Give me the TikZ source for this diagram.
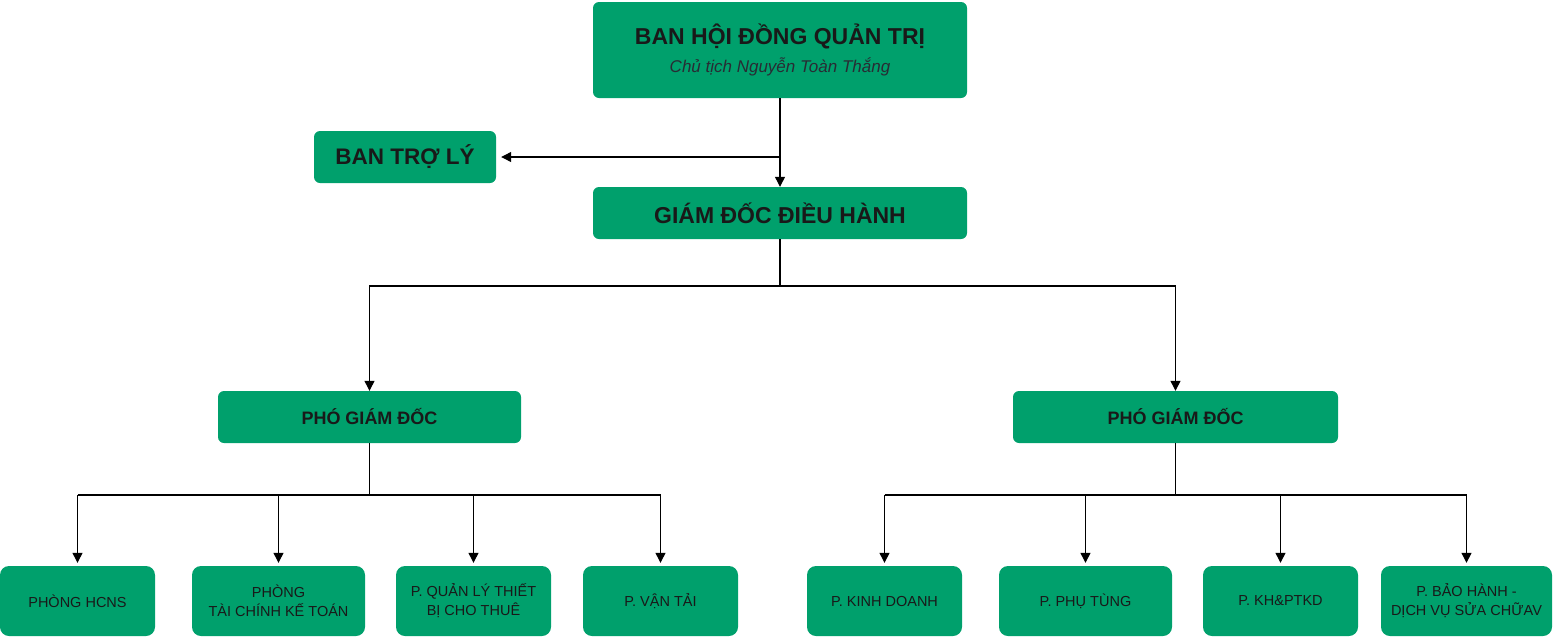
\documentclass[tikz,border=0pt]{standalone}
\usepackage{fontspec}
\setmainfont{Liberation Sans}
\usepackage{tikz}
\usetikzlibrary{arrows.meta}

\definecolor{boxgreen}{RGB}{0,160,108}
\definecolor{subgray}{RGB}{40,44,52}

\tikzset{
	box/.style={fill=boxgreen, rounded corners=6pt, inner sep=0pt, align=center, text=black!90},
	bigbox/.style={box, minimum width=374pt, minimum height=52pt},
	midbox/.style={box, minimum height=52pt},
	unitbox/.style={box, rounded corners=9pt, minimum width=155pt, minimum height=70pt, font=\fontsize{14.5}{19}\selectfont},
	arr/.style={-{Triangle[length=10pt,width=10pt]}, line width=1.2pt},
	wire/.style={line width=1.2pt}
}

\begin{document}
\begin{tikzpicture}[x=1pt,y=-1pt]
	
	\useasboundingbox (0,0) rectangle (1555,638);
	
	% tier 1 and 2
	\node[bigbox, minimum height=96pt] (hdqt) at (780,50) {{\fontsize{23}{28}\selectfont\bfseries BAN HỘI ĐỒNG QUẢN TRỊ}\\[7pt]{\fontsize{17}{18}\selectfont\itshape\color{subgray} Chủ tịch Nguyễn Toàn Thắng}};
	\node[midbox, minimum width=182pt, font=\fontsize{22.5}{26}\selectfont\bfseries] (trl) at (405,157) {BAN TRỢ LÝ};
	\node[bigbox, font=\fontsize{23}{26}\selectfont\bfseries] (gd) at (780,213) {GIÁM ĐỐC ĐIỀU HÀNH};
	
	% tier 3
	\node[midbox, minimum width=303pt, font=\fontsize{18}{22}\selectfont\bfseries] (pgdL) at (369.5,417) {PHÓ GIÁM ĐỐC};
	\node[midbox, minimum width=325pt, font=\fontsize{18}{22}\selectfont\bfseries] (pgdR) at (1175.5,417) {PHÓ GIÁM ĐỐC};
	
	% tier 4
	\node[unitbox] (hcns) at (77.5,601) {PHÒNG HCNS};
	\node[unitbox, minimum width=173pt] (tckt) at (278.5,601) {PHÒNG\\TÀI CHÍNH KẾ TOÁN};
	\node[unitbox] (qltb) at (473.5,601) {P. QUẢN LÝ THIẾT\\BỊ CHO THUÊ};
	\node[unitbox] (vt) at (660.5,601) {P. VẬN TẢI};
	\node[unitbox] (kd) at (884.5,601) {P. KINH DOANH};
	\node[unitbox, minimum width=173pt] (pt) at (1085.5,601) {P. PHỤ TÙNG};
	\node[unitbox] (kh) at (1280.5,601) {P. KH\&PTKD};
	\node[unitbox, minimum width=171pt] (bh) at (1466.5,601) {P. BẢO HÀNH -\\DỊCH VỤ SỬA CHỮAV};
	
	\coordinate (tap) at (780,157);
	\coordinate (mbus) at (780,286);
	\coordinate (lbus) at (369.5,495);
	\coordinate (rbus) at (1175.5,495);
	
	\draw[arr] (hdqt) -- (gd);
	\draw[arr, shorten >=5pt] (tap) -- (trl);
	
	\draw[wire] (gd) -- (mbus);
	\draw[arr] (mbus) -| (pgdL);
	\draw[arr] (mbus) -| (pgdR);
	
	\draw[wire] (pgdL) -- (lbus);
	\draw[wire] (lbus -| hcns) -- (lbus -| vt);
	\foreach \u in {hcns,tckt,qltb,vt}
		\draw[arr, shorten >=3pt] (lbus -| \u) -- (\u);
	
	\draw[wire] (pgdR) -- (rbus);
	\draw[wire] (rbus -| kd) -- (rbus -| bh);
	\foreach \u in {kd,pt,kh,bh}
		\draw[arr, shorten >=3pt] (rbus -| \u) -- (\u);
	
\end{tikzpicture}
\end{document}
